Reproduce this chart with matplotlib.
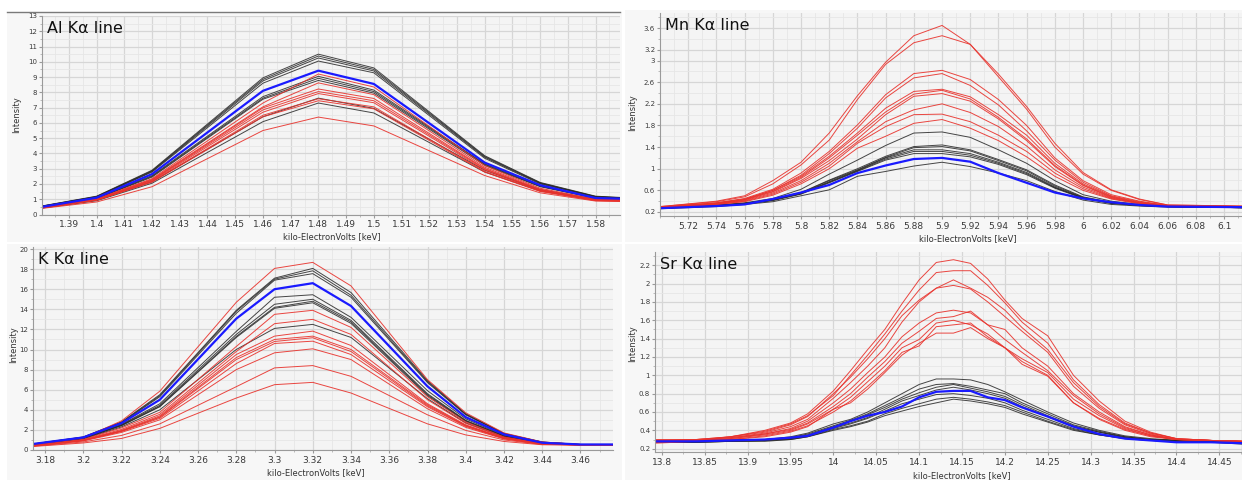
import numpy as np
import matplotlib
matplotlib.use('Agg')
import matplotlib.pyplot as plt
from matplotlib.patches import Rectangle
from matplotlib.lines import Line2D
from matplotlib.ticker import FuncFormatter, MultipleLocator, FixedLocator

# Al K-alpha spectra
al_kev = [1.3803, 1.40, 1.42, 1.46, 1.48, 1.50, 1.54, 1.56, 1.58, 1.5888]
al_black = [
    [0.56, 1.20, 2.90, 8.95, 10.50, 9.60, 3.85, 2.10, 1.20, 1.12],
    [0.55, 1.18, 2.86, 8.85, 10.38, 9.50, 3.80, 2.07, 1.18, 1.10],
    [0.54, 1.16, 2.82, 8.75, 10.25, 9.40, 3.75, 2.04, 1.16, 1.09],
    [0.53, 1.14, 2.78, 8.60, 10.05, 9.28, 3.68, 2.00, 1.15, 1.08],
    [0.50, 1.08, 2.55, 7.72, 9.05, 8.15, 3.32, 1.88, 1.10, 1.05],
    [0.49, 1.06, 2.50, 7.62, 8.92, 8.05, 3.28, 1.85, 1.08, 1.03],
    [0.48, 1.04, 2.45, 7.55, 8.78, 7.95, 3.22, 1.82, 1.06, 1.02],
    [0.44, 0.95, 2.15, 6.40, 7.62, 6.95, 2.90, 1.62, 1.00, 0.95],
    [0.42, 0.90, 2.05, 6.08, 7.30, 6.65, 2.78, 1.55, 0.96, 0.92],
]
al_red = [
    [0.47, 1.02, 2.35, 7.30, 9.20, 8.35, 3.20, 1.72, 1.00, 0.96],
    [0.46, 1.00, 2.30, 7.05, 8.62, 7.85, 3.10, 1.66, 0.98, 0.94],
    [0.45, 0.98, 2.26, 6.98, 8.22, 7.60, 3.02, 1.62, 0.96, 0.92],
    [0.45, 0.97, 2.24, 6.85, 8.05, 7.45, 2.98, 1.60, 0.95, 0.91],
    [0.44, 0.96, 2.20, 6.70, 7.92, 7.32, 2.92, 1.57, 0.94, 0.90],
    [0.43, 0.94, 2.15, 6.50, 7.58, 7.05, 2.82, 1.53, 0.92, 0.89],
    [0.43, 0.93, 2.12, 6.40, 7.45, 6.92, 2.78, 1.51, 0.91, 0.88],
    [0.40, 0.82, 1.82, 5.50, 6.38, 5.80, 2.55, 1.42, 0.88, 0.85],
]
al_blue = [0.50, 1.10, 2.65, 8.10, 9.42, 8.55, 3.40, 1.92, 1.08, 1.04]

# K K-alpha spectra
k_kev = [3.1737, 3.20, 3.22, 3.24, 3.28, 3.30, 3.32, 3.34, 3.38, 3.40, 3.42, 3.44, 3.46, 3.477]
k_black = [
    [0.60, 1.30, 2.80, 5.50, 13.9, 17.1, 18.07, 15.67, 6.9, 3.60, 1.65, 0.80, 0.55, 0.55],
    [0.60, 1.28, 2.75, 5.40, 13.8, 17.0, 17.83, 15.40, 6.8, 3.55, 1.62, 0.78, 0.55, 0.55],
    [0.58, 1.26, 2.70, 5.30, 13.6, 16.9, 17.55, 15.20, 6.7, 3.50, 1.60, 0.77, 0.55, 0.55],
    [0.55, 1.20, 2.55, 4.60, 11.8, 15.2, 15.45, 13.20, 5.9, 3.10, 1.45, 0.70, 0.53, 0.53],
    [0.55, 1.18, 2.50, 4.45, 11.5, 14.5, 15.00, 12.90, 5.6, 2.95, 1.40, 0.68, 0.53, 0.53],
    [0.54, 1.16, 2.45, 4.35, 11.3, 14.2, 14.80, 12.75, 5.5, 2.90, 1.38, 0.67, 0.52, 0.52],
    [0.54, 1.15, 2.42, 4.30, 11.2, 14.1, 14.65, 12.60, 5.4, 2.85, 1.36, 0.66, 0.52, 0.52],
    [0.52, 1.10, 2.30, 4.00, 10.0, 12.1, 12.50, 11.20, 5.1, 2.70, 1.30, 0.64, 0.52, 0.52],
]
k_red = [
    [0.50, 1.20, 2.90, 5.85, 14.70, 18.07, 18.67, 16.33, 7.0, 3.70, 1.70, 0.80, 0.55, 0.55],
    [0.45, 1.05, 2.20, 3.75, 10.30, 13.50, 13.90, 12.20, 5.3, 2.80, 1.30, 0.65, 0.52, 0.52],
    [0.44, 1.00, 2.05, 3.55, 9.80, 12.57, 13.00, 11.50, 5.0, 2.65, 1.25, 0.62, 0.52, 0.52],
    [0.43, 0.98, 1.95, 3.40, 9.50, 11.33, 11.83, 10.40, 4.6, 2.50, 1.20, 0.60, 0.51, 0.51],
    [0.42, 0.96, 1.90, 3.30, 9.20, 11.00, 11.33, 10.00, 4.5, 2.45, 1.18, 0.60, 0.51, 0.51],
    [0.42, 0.95, 1.88, 3.25, 9.00, 10.80, 11.17, 9.80, 4.4, 2.40, 1.16, 0.59, 0.51, 0.51],
    [0.41, 0.93, 1.84, 3.15, 8.60, 10.60, 10.83, 9.50, 4.3, 2.35, 1.14, 0.58, 0.51, 0.51],
    [0.40, 0.90, 1.75, 3.00, 8.00, 9.67, 10.07, 9.00, 4.1, 2.25, 1.10, 0.57, 0.50, 0.50],
    [0.38, 0.80, 1.45, 2.60, 6.30, 8.17, 8.40, 7.33, 3.5, 1.95, 1.00, 0.55, 0.50, 0.50],
    [0.35, 0.70, 1.15, 2.15, 5.17, 6.50, 6.73, 5.67, 2.6, 1.50, 0.85, 0.52, 0.50, 0.50],
]
k_blue = [0.60, 1.25, 2.67, 5.00, 13.07, 16.00, 16.60, 14.33, 6.33, 3.27, 1.55, 0.72, 0.55, 0.55]

# Mn K-alpha spectra
mn_kev = [5.70, 5.74, 5.76, 5.78, 5.80, 5.82, 5.84, 5.86, 5.88, 5.90,
          5.92, 5.94, 5.96, 5.98, 6.00, 6.02, 6.04, 6.06, 6.1127]
mn_red = [
    [0.30, 0.40, 0.50, 0.78, 1.12, 1.66, 2.35, 2.97, 3.46, 3.65, 3.30, 2.75, 2.15, 1.47, 0.93, 0.61, 0.44, 0.33, 0.31],
    [0.30, 0.39, 0.48, 0.72, 1.07, 1.53, 2.28, 2.93, 3.33, 3.46, 3.30, 2.70, 2.10, 1.40, 0.90, 0.60, 0.43, 0.33, 0.31],
    [0.29, 0.37, 0.45, 0.62, 0.92, 1.32, 1.81, 2.37, 2.76, 2.82, 2.65, 2.28, 1.80, 1.20, 0.78, 0.52, 0.40, 0.32, 0.30],
    [0.29, 0.37, 0.44, 0.60, 0.88, 1.28, 1.75, 2.31, 2.68, 2.76, 2.54, 2.18, 1.70, 1.16, 0.75, 0.50, 0.39, 0.32, 0.30],
    [0.29, 0.36, 0.43, 0.60, 0.86, 1.23, 1.66, 2.12, 2.43, 2.47, 2.33, 2.00, 1.62, 1.10, 0.72, 0.49, 0.38, 0.32, 0.30],
    [0.28, 0.36, 0.43, 0.58, 0.84, 1.20, 1.62, 2.05, 2.38, 2.45, 2.29, 1.95, 1.55, 1.06, 0.70, 0.48, 0.37, 0.31, 0.30],
    [0.28, 0.35, 0.42, 0.57, 0.82, 1.15, 1.55, 2.00, 2.34, 2.39, 2.25, 1.92, 1.52, 1.04, 0.69, 0.47, 0.37, 0.31, 0.29],
    [0.28, 0.35, 0.41, 0.55, 0.78, 1.10, 1.50, 1.87, 2.09, 2.20, 2.04, 1.78, 1.42, 0.98, 0.66, 0.46, 0.36, 0.31, 0.29],
    [0.28, 0.34, 0.40, 0.53, 0.75, 1.05, 1.47, 1.78, 2.00, 2.01, 1.87, 1.62, 1.32, 0.92, 0.63, 0.45, 0.36, 0.31, 0.29],
    [0.28, 0.34, 0.39, 0.51, 0.72, 1.00, 1.38, 1.60, 1.84, 1.91, 1.75, 1.52, 1.22, 0.86, 0.60, 0.44, 0.35, 0.31, 0.29],
]
mn_black = [
    [0.27, 0.33, 0.37, 0.45, 0.62, 0.90, 1.16, 1.43, 1.66, 1.68, 1.58, 1.35, 1.10, 0.78, 0.52, 0.40, 0.34, 0.31, 0.29],
    [0.27, 0.32, 0.36, 0.43, 0.56, 0.79, 1.00, 1.23, 1.41, 1.44, 1.35, 1.17, 0.98, 0.70, 0.48, 0.38, 0.33, 0.30, 0.28],
    [0.27, 0.32, 0.36, 0.43, 0.55, 0.78, 0.98, 1.21, 1.39, 1.41, 1.33, 1.15, 0.96, 0.68, 0.47, 0.37, 0.33, 0.30, 0.28],
    [0.27, 0.32, 0.35, 0.42, 0.54, 0.76, 0.97, 1.20, 1.35, 1.35, 1.28, 1.12, 0.93, 0.66, 0.46, 0.37, 0.33, 0.30, 0.28],
    [0.27, 0.31, 0.35, 0.42, 0.54, 0.75, 0.96, 1.18, 1.32, 1.32, 1.25, 1.10, 0.91, 0.65, 0.46, 0.36, 0.32, 0.30, 0.28],
    [0.27, 0.31, 0.35, 0.41, 0.53, 0.74, 0.95, 1.16, 1.28, 1.28, 1.22, 1.08, 0.89, 0.64, 0.45, 0.36, 0.32, 0.30, 0.28],
    [0.26, 0.30, 0.34, 0.39, 0.50, 0.61, 0.86, 0.95, 1.05, 1.12, 1.04, 0.92, 0.78, 0.58, 0.42, 0.34, 0.31, 0.29, 0.28],
]
mn_blue = [0.27, 0.31, 0.34, 0.44, 0.56, 0.70, 0.92, 1.06, 1.18, 1.20, 1.13, 0.92, 0.74, 0.56, 0.45, 0.38, 0.33, 0.30, 0.29]
mn_yticks = [0.2, 0.6, 1, 1.4, 1.8, 2.2, 2.6, 3, 3.2, 3.6]

# Sr K-alpha spectra
sr_kev = [13.792, 13.84, 13.88, 13.92, 13.95, 13.97, 14.00, 14.02, 14.04, 14.06, 14.08, 14.10, 14.12,
          14.14, 14.16, 14.18, 14.20, 14.22, 14.25, 14.28, 14.31, 14.34, 14.37, 14.40, 14.44, 14.4765]
sr_red = [
    [0.29, 0.29, 0.33, 0.40, 0.48, 0.58, 0.83, 1.05, 1.28, 1.50, 1.78, 2.04, 2.23, 2.26, 2.22, 2.05, 1.82, 1.62, 1.43, 1.00, 0.72, 0.50, 0.38, 0.31, 0.29, 0.28],
    [0.29, 0.30, 0.33, 0.39, 0.47, 0.56, 0.78, 1.00, 1.22, 1.45, 1.70, 1.93, 2.12, 2.14, 2.14, 1.98, 1.79, 1.58, 1.35, 0.95, 0.68, 0.48, 0.37, 0.31, 0.29, 0.28],
    [0.30, 0.30, 0.33, 0.38, 0.46, 0.55, 0.80, 0.98, 1.18, 1.40, 1.65, 1.82, 1.95, 2.04, 1.95, 1.85, 1.71, 1.52, 1.28, 0.92, 0.66, 0.47, 0.37, 0.31, 0.29, 0.28],
    [0.28, 0.30, 0.32, 0.37, 0.44, 0.52, 0.75, 0.92, 1.10, 1.30, 1.58, 1.80, 1.95, 1.98, 1.94, 1.80, 1.64, 1.48, 1.25, 0.88, 0.64, 0.46, 0.36, 0.30, 0.29, 0.28],
    [0.28, 0.29, 0.32, 0.36, 0.42, 0.50, 0.70, 0.85, 1.03, 1.20, 1.42, 1.57, 1.68, 1.71, 1.68, 1.55, 1.50, 1.30, 1.10, 0.80, 0.60, 0.44, 0.35, 0.30, 0.29, 0.28],
    [0.28, 0.29, 0.31, 0.36, 0.41, 0.48, 0.66, 0.80, 0.98, 1.15, 1.35, 1.48, 1.62, 1.64, 1.70, 1.55, 1.39, 1.25, 1.05, 0.78, 0.58, 0.43, 0.35, 0.30, 0.29, 0.28],
    [0.27, 0.29, 0.31, 0.35, 0.40, 0.47, 0.63, 0.76, 0.93, 1.10, 1.30, 1.39, 1.57, 1.60, 1.55, 1.45, 1.30, 1.18, 1.03, 0.74, 0.56, 0.42, 0.34, 0.30, 0.29, 0.28],
    [0.27, 0.28, 0.30, 0.34, 0.39, 0.45, 0.60, 0.72, 0.88, 1.05, 1.25, 1.32, 1.53, 1.55, 1.57, 1.42, 1.30, 1.12, 0.99, 0.70, 0.53, 0.41, 0.34, 0.30, 0.29, 0.28],
    [0.26, 0.28, 0.30, 0.33, 0.38, 0.44, 0.63, 0.70, 0.85, 1.03, 1.22, 1.35, 1.46, 1.46, 1.52, 1.40, 1.30, 1.15, 1.00, 0.70, 0.52, 0.40, 0.33, 0.30, 0.29, 0.28],
]
sr_black = [
    [0.28, 0.28, 0.30, 0.30, 0.33, 0.37, 0.47, 0.52, 0.60, 0.70, 0.80, 0.90, 0.96, 0.96, 0.95, 0.90, 0.82, 0.73, 0.60, 0.48, 0.40, 0.34, 0.31, 0.29, 0.28, 0.27],
    [0.28, 0.28, 0.29, 0.30, 0.32, 0.36, 0.45, 0.51, 0.58, 0.67, 0.76, 0.85, 0.90, 0.91, 0.88, 0.84, 0.80, 0.70, 0.58, 0.46, 0.39, 0.33, 0.30, 0.29, 0.28, 0.27],
    [0.28, 0.28, 0.29, 0.30, 0.32, 0.35, 0.44, 0.50, 0.57, 0.65, 0.74, 0.81, 0.87, 0.90, 0.86, 0.82, 0.77, 0.68, 0.56, 0.45, 0.38, 0.33, 0.30, 0.29, 0.28, 0.27],
    [0.27, 0.28, 0.29, 0.29, 0.31, 0.34, 0.43, 0.48, 0.54, 0.63, 0.72, 0.78, 0.84, 0.87, 0.84, 0.80, 0.75, 0.66, 0.55, 0.44, 0.38, 0.32, 0.30, 0.29, 0.28, 0.26],
    [0.27, 0.27, 0.28, 0.29, 0.31, 0.34, 0.42, 0.47, 0.53, 0.61, 0.69, 0.74, 0.79, 0.80, 0.78, 0.75, 0.70, 0.62, 0.52, 0.42, 0.36, 0.32, 0.29, 0.28, 0.28, 0.26],
    [0.27, 0.27, 0.28, 0.29, 0.30, 0.33, 0.41, 0.45, 0.50, 0.58, 0.64, 0.69, 0.74, 0.76, 0.74, 0.71, 0.67, 0.60, 0.50, 0.41, 0.35, 0.31, 0.29, 0.28, 0.27, 0.26],
    [0.27, 0.27, 0.28, 0.28, 0.30, 0.33, 0.40, 0.44, 0.49, 0.56, 0.61, 0.66, 0.70, 0.74, 0.72, 0.69, 0.65, 0.58, 0.49, 0.40, 0.35, 0.31, 0.29, 0.28, 0.27, 0.25],
]
sr_blue = [0.28, 0.28, 0.29, 0.30, 0.32, 0.34, 0.43, 0.50, 0.56, 0.60, 0.66, 0.76, 0.82, 0.83, 0.83, 0.76, 0.73, 0.65, 0.55, 0.44, 0.36, 0.31, 0.29, 0.27, 0.27, 0.26]

W, H = 1242, 480
fig = plt.figure(figsize=(W / 100, H / 100), dpi=100)
fig.patch.set_facecolor('white')


def box(l, t, r, b):
    # pixel box (left, top, right, bottom) -> figure fraction rect
    return [l / W, 1 - b / H, (r - l) / W, (b - t) / H]


# light panel backgrounds, kept behind the axes
for l, t, r, b in [(7, 12, 622, 242), (7, 244, 622, 480), (625, 10, 1242, 242), (625, 244, 1242, 480)]:
    x0, y0, w, h = box(l, t, r, b)
    fig.add_artist(Rectangle((x0, y0), w, h, transform=fig.transFigure,
                             facecolor='#f7f7f7', edgecolor='none', zorder=-5))
fig.add_artist(Line2D([7 / W, 620 / W], [1 - 12 / H, 1 - 12 / H], transform=fig.transFigure,
                      color='#7a7a7a', lw=1.0, zorder=-4))

fmt = FuncFormatter(lambda v, p: '{:g}'.format(round(v, 4)))


def panel(rect, title, kev, black, red, blue, xlim, ylim, xstep, xminor, yticks, yminor):
    ax = fig.add_axes(box(*rect))
    ax.set_facecolor('#f4f4f4')
    for s in ['top', 'right']:
        ax.spines[s].set_visible(False)
    for s in ['left', 'bottom']:
        ax.spines[s].set_color('#9a9a9a')
        ax.spines[s].set_linewidth(0.8)
    for ys in black:
        ax.plot(kev, ys, color='#262626', lw=0.7, alpha=0.85)
    for ys in red:
        ax.plot(kev, ys, color='#e8322c', lw=0.7, alpha=0.9)
    ax.plot(kev, blue, color='#1a1aff', lw=1.6)
    ax.set_xlim(*xlim)
    ax.set_ylim(*ylim)
    # labelled ticks start strictly inside the left edge
    first = np.ceil(xlim[0] / xstep + 1e-3) * xstep
    ax.xaxis.set_major_locator(FixedLocator(np.arange(first, xlim[1] + 1e-9, xstep)))
    ax.xaxis.set_minor_locator(MultipleLocator(xminor))
    ax.yaxis.set_major_locator(FixedLocator(yticks))
    ax.yaxis.set_minor_locator(MultipleLocator(yminor))
    ax.xaxis.set_major_formatter(fmt)
    ax.yaxis.set_major_formatter(fmt)
    ax.grid(True, which='major', color='#d6d6d6', lw=0.9)
    ax.grid(True, which='minor', color='#e6e6e6', lw=0.6)
    ax.set_axisbelow(True)
    ax.tick_params(axis='x', which='major', labelsize=6.5, length=2, color='#9a9a9a',
                   labelcolor='#3a3a3a', pad=2)
    ax.tick_params(axis='y', which='major', labelsize=5, length=2, color='#9a9a9a',
                   labelcolor='#3a3a3a', pad=1.5)
    ax.tick_params(which='minor', length=1.2, color='#b0b0b0')
    ax.text(0.009, 0.975, title, transform=ax.transAxes, ha='left', va='top',
            fontsize=11.5, color='#111111')
    return ax


panel((42, 16, 620, 214.5), 'Al Kα line', al_kev, al_black, al_red, al_blue,
      (1.3803, 1.5888), (0, 13), 0.01, 0.005, np.arange(0, 14, 1), 0.5)
panel((33, 247, 613, 450), 'K Kα line', k_kev, k_black, k_red, k_blue,
      (3.1737, 3.477), (0, 20.2), 0.02, 0.01, np.arange(0, 21, 2), 1)
panel((660, 13, 1242, 216), 'Mn Kα line', mn_kev, mn_black, mn_red, mn_blue,
      (5.70, 6.1127), (0.126, 3.88), 0.02, 0.01, mn_yticks, 0.2)
panel((655, 252, 1242, 452), 'Sr Kα line', sr_kev, sr_black, sr_red, sr_blue,
      (13.792, 14.4765), (0.164, 2.344), 0.05, 0.025, np.arange(0.2, 2.21, 0.2), 0.1)

# axis labels placed in pixel coordinates
for x, y in [(332, 237), (316, 473), (968, 239), (962, 476)]:
    fig.text(x / W, 1 - y / H, 'kilo-ElectronVolts [keV]', ha='center', va='center',
             fontsize=6, color='#333333')
for x, y in [(17, 115), (14, 345), (633, 113), (633, 344)]:
    fig.text(x / W, 1 - y / H, 'Intensity', ha='center', va='center', rotation=90,
             fontsize=6, color='#333333')

plt.savefig('out.png', dpi=100)
